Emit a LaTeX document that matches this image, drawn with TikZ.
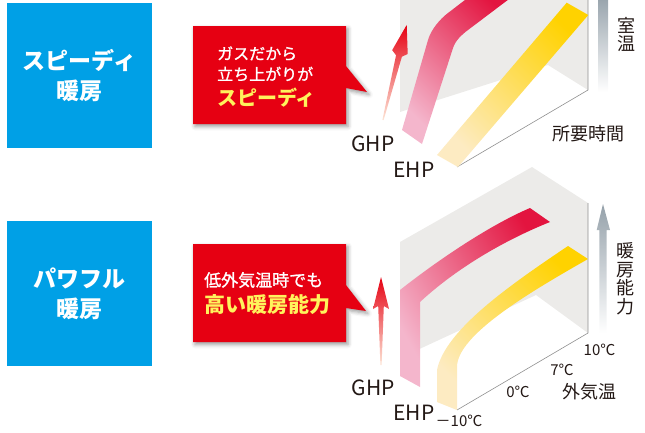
\documentclass[tikz,border=0pt]{standalone}
\usepackage{fontspec}
\setmainfont{Noto Sans CJK JP}
\newfontfamily\medfont{Noto Sans CJK JP}[FakeBold=1.2]
\usetikzlibrary{shadows.blur}
\definecolor{boxblue}{HTML}{00A0E6}
\definecolor{callred}{HTML}{E60012}
\definecolor{calltext}{HTML}{FFF35C}
\definecolor{panel}{HTML}{ECEBE9}
\definecolor{axisgray}{HTML}{8F8F8F}
\definecolor{ink}{HTML}{231815}
\definecolor{ghpA}{HTML}{F4B6CC}
\definecolor{ghpB}{HTML}{E3143F}
\definecolor{ehpA}{HTML}{FDEBC2}
\definecolor{ehpB}{HTML}{FFD200}
\definecolor{arrR}{HTML}{E60012}
\definecolor{arrO}{HTML}{EF7034}
\definecolor{arrP}{HTML}{FDE5D6}
\definecolor{barG}{HTML}{95A1AA}
\begin{document}
\begin{tikzpicture}[x=1pt,y=-1pt,
  bluebox/.style={fill=boxblue, minimum width=145pt, minimum height=145pt, inner sep=0pt,
    text=white, font=\bfseries\fontsize{23}{30}\selectfont, align=center},
  callout/.style={fill=callred, blur shadow={shadow xshift=2pt,shadow yshift=-2.5pt,shadow blur radius=4pt,shadow opacity=40}},
  calltxtw/.style={text=white, anchor=west, inner sep=0pt},
  calltxty/.style={text=calltext, anchor=west, inner sep=0pt},
  lbl/.style={text=ink, inner sep=0pt, font=\fontsize{21}{21}\selectfont},
  axlbl/.style={text=ink, inner sep=0pt, font=\fontsize{18}{18}\selectfont},
  vlbl/.style={text=ink, inner sep=0pt, align=center, font=\fontsize{18}{18.5}\selectfont},
  templbl/.style={text=ink, inner sep=0pt, font=\fontsize{15}{15}\selectfont},
  axisline/.style={draw=axisgray, line width=0.6pt},
  ghpband/.style={left color=ghpA, right color=ghpB, shading angle=135},
  ehpband/.style={left color=ehpA, right color=ehpB, shading angle=135},
  redarrow/.style={top color=arrR, middle color=arrO, bottom color=arrP},
  grayarrow/.style={top color=barG, bottom color=white}
]
\useasboundingbox (0,0) rectangle (645,432);
\begin{scope}
\clip (0,0) rectangle (645,432);

% ---------- left blue boxes ----------
\node[bluebox] (b1) at (79.5,75.5) {スピーディ\\暖房};
\node[bluebox] (b2) at (79.5,293.5) {パワフル\\暖房};

% ---------- callouts ----------
\fill[callout] (193,26) -- (346,26) -- (346,66) -- (367,92) -- (346,88) -- (346,124) -- (193,124) -- cycle;
\node[calltxtw, font=\medfont\fontsize{16}{16}\selectfont] (c1a) at (217,53.5) {ガスだから};
\node[calltxtw, font=\medfont\fontsize{16}{16}\selectfont] (c1b) at (217,74) {立ち上がりが};
\node[calltxty, font=\bfseries\fontsize{20}{20}\selectfont] (c1c) at (217,98) {スピーディ};

\fill[callout] (193,244) -- (346,244) -- (346,285) -- (366,311) -- (346,308) -- (346,342) -- (193,342) -- cycle;
\node[calltxtw, font=\medfont\fontsize{17}{17}\selectfont] (c2a) at (204,280) {低外気温時でも};
\node[calltxty, font=\bfseries\fontsize{21}{21}\selectfont] (c2b) at (204,305) {高い暖房能力};

% ---------- top chart ----------
\fill[panel] (400,-5) -- (588,-5) -- (588,90) -- (548,65) -- (400,112) -- cycle;
\draw[axisline] (588,-5) -- (588,90) -- (457,167);
\shade[ghpband] (402,130) -- (428,40) .. controls (431,29.6) and (440,19) .. (448,13) -- (478,-10)
  -- (521,-10) -- (468,30) .. controls (461.6,34.8) and (455.5,40.4) .. (453,48) -- (422,144) -- cycle;
\shade[ehpband] (437,155) -- (566.7,2.7) -- (588.3,15) -- (458,167) -- cycle;
\shade[grayarrow] (598,-5) rectangle (608,92);
\begin{scope}[shift={(383,120)}, rotate=-14]
\shade[redarrow] (-0.6,0) -- (-3,-66) -- (-8,-70) -- (0,-98) -- (8,-70) -- (3,-66) -- (0.6,0) -- cycle;
\end{scope}
\node[lbl] (ghp1) at (373,144) {GHP};
\node[lbl] (ehp1) at (414,169.5) {EHP};
\node[axlbl] (time) at (588,133.5) {所要時間};
\node[vlbl] (room) at (626,34.5) {室\\温};

% ---------- bottom chart ----------
\fill[panel] (400,242) -- (532,167) -- (588,203) -- (588,333) -- (536,295) -- (400,358) -- cycle;
\draw[axisline] (588,203) -- (588,333) -- (457,410);
\shade[ghpband, shading angle=120] (400,376) -- (400,290) .. controls (438,260) and (490,225) .. (530,208)
  -- (550,222) .. controls (510,238) and (460,265) .. (420,302) -- (420,387) -- cycle;
\shade[ehpband] (437,402) -- (437,370) .. controls (445,330) and (510,285) .. (568,246)
  -- (588,259) .. controls (530,292) and (457,335) .. (457,367) -- (457,410) -- cycle;
\shade[grayarrow] (599.3,333) -- (599.3,230) -- (596.7,230) -- (603,204) -- (610,230) -- (606.7,230) -- (606.7,333) -- cycle;
\shade[redarrow] (380.4,365) -- (378.2,306) -- (373,309) -- (381,277) -- (389,309) -- (383.8,306) -- (381.6,365) -- cycle;
\node[lbl] (ghp2) at (373.5,388) {GHP};
\node[lbl] (ehp2) at (414,413) {EHP};
\node[vlbl] (cap) at (625.5,279) {暖\\房\\能\\力};
\node[axlbl] (outd) at (589,392) {外気温};
\node[templbl] (t10) at (599.5,350) {10℃};
\node[templbl] (t7) at (562,370) {7℃};
\node[templbl] (t0) at (518,392) {0℃};
\node[templbl] (tm10) at (459,421) {－10℃};
\end{scope}
\end{tikzpicture}
\end{document}
